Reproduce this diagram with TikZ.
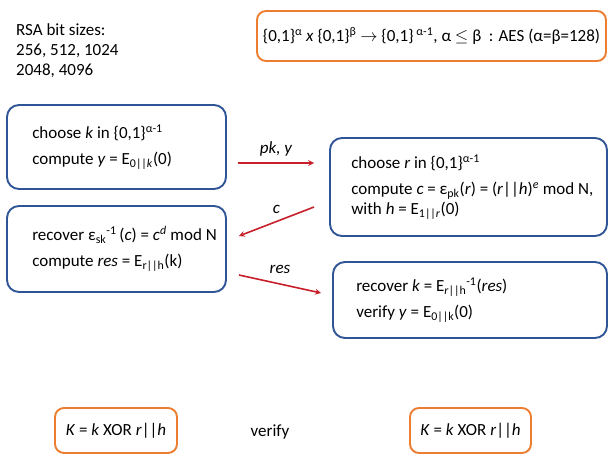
\documentclass[tikz,border=0pt]{standalone}
\usepackage{fontspec}
\setmainfont{Carlito}
\usepackage{tikz}
\usetikzlibrary{positioning}
\definecolor{boxblue}{HTML}{2F5597}
\definecolor{boxorange}{HTML}{ED7D31}
\definecolor{arrowred}{HTML}{C8202A}
\newcommand{\bits}[1]{\{0,1\}\textsuperscript{#1}}
\newcommand{\subsup}[2]{\textsubscript{#1}\textsuperscript{#2}}

\begin{document}
\begin{tikzpicture}[x=1pt, y=-1pt, font=\fontsize{17}{20}\selectfont,
    bluebox/.style={draw=boxblue, line width=1.9pt, rounded corners=12pt},
    orangebox/.style={draw=boxorange, line width=1.9pt, rounded corners=9pt},
    txt/.style={align=left, inner sep=0pt},
    msg/.style={arrowred, line width=1.6pt, -stealth},
    lbl/.style={text=black, font=\fontsize{17}{20}\selectfont\itshape}]
    \useasboundingbox (0,0) rectangle (613,460);
    % key sizes and block cipher
    \node[txt, anchor=north west] (rsa) at (16,23) {RSA bit sizes:\\256, 512, 1024\\2048, 4096};
    \node[orangebox, minimum width=349, minimum height=50] (aes) at (431.5,36)
        {\bits{α} \textit{x} \bits{β} $\rightarrow$ \{0,1\}\,\textsuperscript{α-1}, α $\leq$ β\ \ : AES (α=β=128)};
    % left party
    \node[bluebox, minimum width=219, minimum height=84] (A) at (116.5,147) {};
    \node[txt, right=26pt of A.west] (Atxt) {choose \textit{k} in \bits{α-1}\\[6pt]
        compute \textit{y} = E\textsubscript{0||\textit{k}}(0)};
    \node[bluebox, minimum width=219, minimum height=86] (C) at (116.5,249) {};
    \node[txt, right=26pt of C.west] (Ctxt) {recover ε\subsup{sk}{-1}\,(\textit{c}) = \textit{c}\textsuperscript{\textit{d}} mod N\\[6pt]
        compute \textit{res} = E\textsubscript{r||h}(k)};
    % right party
    \node[bluebox, minimum width=277, minimum height=98] (B) at (468.5,187) {};
    \node[txt, right=22pt of B.west] (Btxt) {choose \textit{r} in \bits{α-1}\\[6pt]
        compute \textit{c} = ε\textsubscript{pk}(\textit{r}) = (\textit{r}||\textit{h})\textsuperscript{\textit{e}} mod N,\\
        with \textit{h} = E\textsubscript{1||\textit{r}}(0)};
    \node[bluebox, minimum width=274, minimum height=76] (D) at (470,300) {};
    \node[txt, right=24pt of D.west] (Dtxt) {recover \textit{k} = E\subsup{\textit{r}||h}{-1}(\textit{res})\\[6pt]
        verify \textit{y} = E\textsubscript{0||k}(0)};
    % messages
    \draw[msg] ([shift={(11,16)}]A.east) -- node[lbl, above=3pt] {pk, y} ([shift={(-15,-24)}]B.west);
    \draw[msg] ([shift={(-15,20)}]B.west) -- node[lbl, above=4pt] {c} ([shift={(12,-13)}]C.east);
    \draw[msg] ([shift={(12,26)}]C.east) -- node[lbl, above=6pt] {res} ([shift={(-11,-7)}]D.west);
    % session keys
    \node[orangebox, minimum width=122, minimum height=45] (K1) at (116,430.5)
        {\textit{K} = \textit{k} XOR \textit{r}||\textit{h}};
    \node[orangebox, minimum width=121, minimum height=45] (K2) at (470.5,430.5)
        {\textit{K} = \textit{k} XOR \textit{r}||\textit{h}};
    \node (verify) at (270,432) {verify};
\end{tikzpicture}
\end{document}
